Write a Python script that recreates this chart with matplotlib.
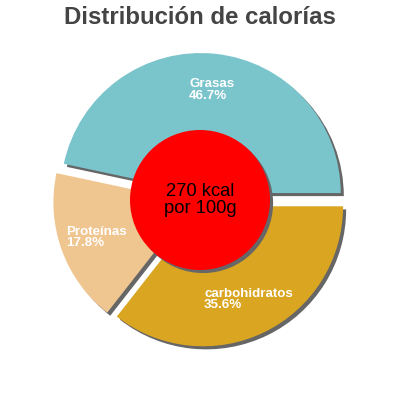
import matplotlib
matplotlib.use("Agg")
import matplotlib.pyplot as plt
import numpy as np
from matplotlib.patches import Circle

categories = ["Grasas", "Proteínas", "carbohidratos"]
values = [46.7, 17.8, 35.6]
colors = ["#7ac4cc", "#efc590", "#daa520"]
center_text = "270 kcal\npor 100g"
title = "Distribución de calorías"

plt.rcParams['font.family'] = ['Liberation Sans', 'DejaVu Sans']

fig = plt.figure(figsize=(4, 4), dpi=100)
ax = fig.add_axes([0, 0, 1, 1])

explode = [0.05] * len(values)
sh = 0.022
shadow_col = "#666666"

# shadows
ax.pie(values, startangle=0, counterclock=True, explode=explode,
       colors=[shadow_col] * len(values), center=(sh, -sh), radius=1.0,
       wedgeprops=dict(linewidth=0))
wedges, _ = ax.pie(values, startangle=0, counterclock=True, explode=explode,
                   colors=colors, center=(0, 0), radius=1.0,
                   wedgeprops=dict(linewidth=0))

# labels
total = sum(values)
ang0 = 0.0
for cat, v in zip(categories, values):
    frac = v / total
    mid = np.deg2rad(ang0 + frac * 360 / 2)
    ang0 += frac * 360
    r = 0.79
    ax.text(r * np.cos(mid), r * np.sin(mid), f"{cat}\n{v:.1f}%",
            ha='center', va='center', multialignment='left', color='white',
            fontsize=9.6, fontweight='bold', linespacing=0.9, zorder=5)

# center circle
ax.add_patch(Circle((sh, -sh), 0.5, color=shadow_col, zorder=3, lw=0))
ax.add_patch(Circle((0, 0), 0.5, color="#ff0000", zorder=4, lw=0))
ax.text(0, 0, center_text, ha='center', va='center', fontsize=13.2,
        color='black', linespacing=0.95, zorder=6)

L = 400 / (2 * 140)
ax.set_xlim(-L, L)
ax.set_ylim(-L, L)
ax.set_aspect('equal')
ax.axis('off')

fig.text(0.5, 0.955, title, ha='center', va='center', fontsize=17.3,
         fontweight='bold', color='#444444')

fig.savefig("out.png", dpi=100)
